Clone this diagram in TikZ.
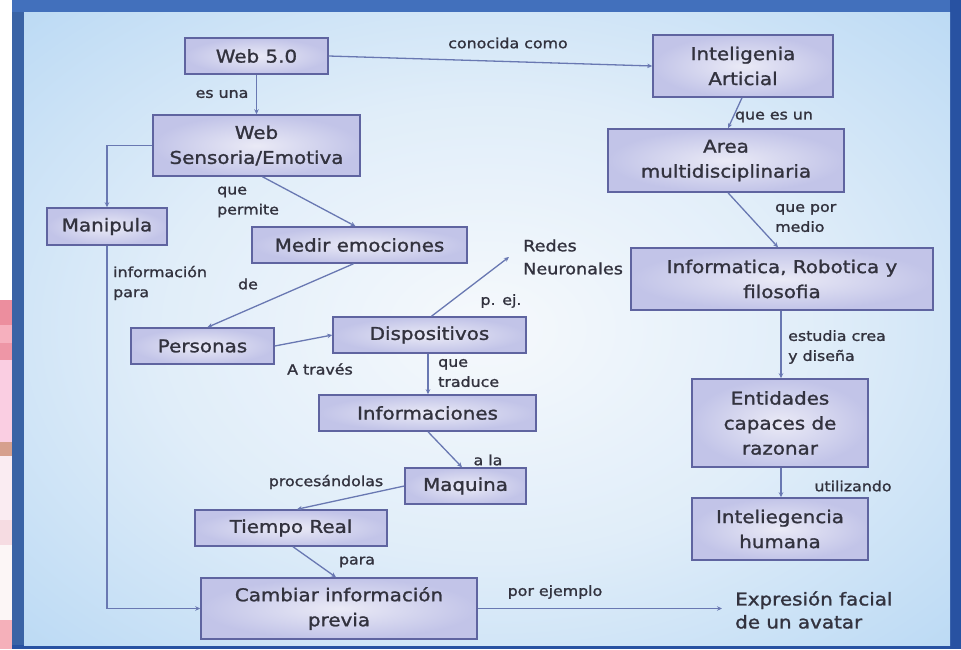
\documentclass[tikz,border=0pt]{standalone}
\usepackage{fontspec}
\usetikzlibrary{arrows.meta,calc}
\newfontfamily\dvs[FakeStretch=1.13,FakeBold=1.3]{DejaVu Sans}
\definecolor{txt}{RGB}{50,50,62}
\definecolor{edgec}{RGB}{105,120,178}
\definecolor{boxline}{RGB}{95,100,160}
\definecolor{boxout}{RGB}{194,196,232}
\definecolor{boxin}{RGB}{234,234,246}
\definecolor{frameblue}{RGB}{66,112,188}
\definecolor{framedark}{RGB}{40,82,162}
\definecolor{bgout}{RGB}{158,202,240}
\definecolor{bgin}{RGB}{246,249,252}
\colorlet{bgmid}{bgin!75!bgout}
\pgfdeclareradialshading{bgshade}{\pgfpoint{0bp}{0bp}}{color(0bp)=(bgin); color(18bp)=(bgmid); color(50bp)=(bgout); color(100bp)=(bgout)}
\tikzset{
  box/.style={draw=boxline, line width=1.5pt, inner color=boxin, outer color=boxout,
    text=txt, font=\dvs\fontsize{17.6}{25}\selectfont, align=center, inner sep=2pt},
  lbl/.style={font=\dvs\fontsize{14}{20}\selectfont, text=txt, inner sep=0pt, align=left},
  big/.style={font=\dvs\fontsize{17.6}{23}\selectfont, text=txt, inner sep=0pt, align=left},
  arr/.style={draw=edgec, line width=1.3pt, -{Stealth[length=5pt,width=4.5pt]}},
}
\begin{document}
\begin{tikzpicture}[x=1pt,y=-1pt]
\useasboundingbox (0,0) rectangle (961,649);
% outer frame
\fill[white] (0,0) rectangle (12,649);
\fill[fill={rgb,255:red,236;green,142;blue,158}] (0,300) rectangle (12,325);
\fill[fill={rgb,255:red,246;green,176;blue,190}] (0,325) rectangle (12,343);
\fill[fill={rgb,255:red,238;green,150;blue,166}] (0,343) rectangle (12,360);
\fill[fill={rgb,255:red,250;green,206;blue,226}] (0,360) rectangle (12,442);
\fill[fill={rgb,255:red,214;green,160;blue,142}] (0,442) rectangle (12,456);
\fill[fill={rgb,255:red,250;green,236;blue,242}] (0,456) rectangle (12,520);
\fill[fill={rgb,255:red,246;green,220;blue,226}] (0,520) rectangle (12,545);
\fill[fill={rgb,255:red,252;green,246;blue,246}] (0,545) rectangle (12,620);
\fill[fill={rgb,255:red,245;green,176;blue,186}] (0,620) rectangle (12,649);
\fill[frameblue] (12,0) rectangle (961,649);
\fill[framedark] (950,0) rectangle (961,649);
\fill[framedark] (12,645) rectangle (961,649);
\fill[frameblue!88!black] (12,12) rectangle (24,645);
\path[shading=bgshade] (24,12) rectangle (950,645);

% boxes
\node[box, minimum width=143pt, minimum height=36pt] (web) at (256.5,56) {Web 5.0};
\node[box, minimum width=180pt, minimum height=62pt] (ia) at (743,66) {Inteligenia\\Articial};
\node[box, minimum width=207pt, minimum height=61pt] (wse) at (256.5,145.5) {Web\\Sensoria/Emotiva};
\node[box, minimum width=236pt, minimum height=63pt] (area) at (726,160.5) {Area\\multidisciplinaria};
\node[box, minimum width=120pt, minimum height=37pt] (manip) at (107,226.5) {Manipula};
\node[box, minimum width=215pt, minimum height=36pt] (medir) at (359.5,245) {Medir emociones};
\node[box, minimum width=302pt, minimum height=62pt] (info) at (782,279) {Informatica, Robotica y\\filosofia};
\node[box, minimum width=143pt, minimum height=36pt] (pers) at (202.5,346) {Personas};
\node[box, minimum width=193pt, minimum height=36pt] (disp) at (429.5,335) {Dispositivos};
\node[box, minimum width=217pt, minimum height=36pt] (infs) at (427.5,413) {Informaciones};
\node[box, minimum width=176pt, minimum height=88pt] (ent) at (780,423) {Entidades\\capaces de\\razonar};
\node[box, minimum width=121pt, minimum height=36pt] (maq) at (465.5,486) {Maquina};
\node[box, minimum width=176pt, minimum height=62pt] (ih) at (780,529) {Inteliegencia\\humana};
\node[box, minimum width=192pt, minimum height=36pt] (tr) at (291,528) {Tiempo Real};
\node[box, minimum width=276pt, minimum height=61pt] (camb) at (339,608.5) {Cambiar información\\previa};

% free texts
\node[lbl, font=\dvs\fontsize{15.6}{23}\selectfont, anchor=west] (redes) at (523,257) {Redes\\Neuronales};
\node[big, anchor=west] (expr) at (735,610) {Expresión facial\\de un avatar};
\coordinate (redesin) at ([xshift=-14pt]redes.west);
\coordinate (exprin) at ([xshift=-13pt]expr.west);

% labels
\node[lbl] (l1) at (508,43) {conocida como};
\node[lbl] (l2) at (222,94) {es una};
\node[lbl, anchor=west] (l3) at (217,202) {que\\permite};
\node[lbl] (l4) at (774,117) {que es un};
\node[lbl, anchor=west] (l5) at (775,218) {que por\\medio};
\node[lbl, anchor=west] (l6) at (113,283) {información\\para};
\node[lbl] (l7) at (248,284) {de};
\node[lbl] (l8) at (501,301) {p. ej.};
\node[lbl] (l9) at (320,369) {A través};
\node[lbl, anchor=west] (l10) at (438,373) {que\\traduce};
\node[lbl, anchor=west] (l11) at (788,347) {estudia crea\\y diseña};
\node[lbl] (l12) at (488,460) {a la};
\node[lbl] (l13) at (326,482) {procesándolas};
\node[lbl] (l14) at (357,562) {para};
\node[lbl] (l15) at (853,486) {utilizando};
\node[lbl] (l16) at (555,592) {por ejemplo};

% connectors
\draw[arr] (web.east) -- (ia.west);
\draw[arr] (web.south) -- (web.south |- wse.north);
\draw[arr] (wse.west) -| (manip.north);
\draw[arr] ([xshift=6pt]wse.south) -- ([xshift=-4pt]medir.north);
\draw[arr] ([xshift=-6pt]medir.south) -- ([xshift=5pt]pers.north);
\draw[arr] (pers.east) -- (disp.west);
\draw[arr] ([xshift=2pt]disp.north) -- (redesin);
\draw[arr] ([xshift=-1.5pt]disp.south) -- ([xshift=-1.5pt]disp.south |- infs.north);
\draw[arr] ([xshift=0.5pt]infs.south) -- ([xshift=-3.5pt]maq.north);
\draw[arr] (maq.west) -- ([xshift=6pt]tr.north);
\draw[arr] ([xshift=2pt]tr.south) -- ([xshift=-3pt]camb.north);
\draw[arr] (manip.south) |- (camb.west);
\draw[arr] (camb.east) -- (camb.east -| exprin);
\draw[arr] ([xshift=-1pt]ia.south) -- ([xshift=2pt]area.north);
\draw[arr] ([xshift=2pt]area.south) -- ([xshift=-4pt]info.north);
\draw[arr] ([xshift=-1pt]info.south) -- ([xshift=-1pt]info.south |- ent.north);
\draw[arr] ([xshift=1pt]ent.south) -- ([xshift=1pt]ih.north);
\end{tikzpicture}
\end{document}
